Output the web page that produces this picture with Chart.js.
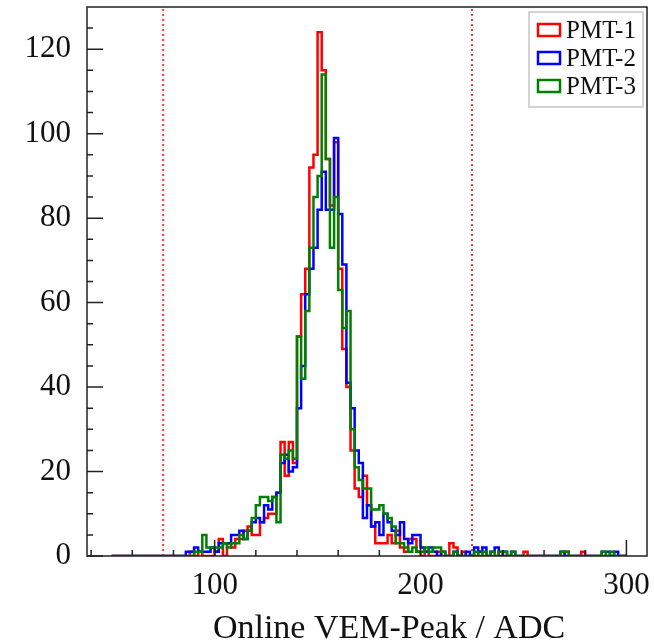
<!DOCTYPE html>
<html>
<head>
<meta charset="utf-8">
<script src="https://cdn.jsdelivr.net/npm/chart.js@4.4.0/dist/chart.umd.min.js"></script>
<style>
  html, body { margin: 0; padding: 0; background: #fff; }
</style>
</head>
<body>
<canvas id="chart" width="654" height="640"></canvas>
<script>
// histogram bins: left edge of first bin and bin width (ADC)
const binStart = 50;
const binWidth = 2;

// counts per bin, 10 bins per row (50-68, 70-88, ...)
const pmt1 = [
  0, 0, 0, 0, 0, 0, 0, 0, 0, 0,
  0, 0, 0, 0, 0, 0, 0, 0, 0, 1,
  0, 1, 0, 0, 0, 1, 4, 0, 3, 2,
  4, 4, 6, 7, 5, 5, 8, 9, 10, 10,
  15, 27, 19, 27, 22, 52, 62, 68, 92, 95,
  124, 115, 94, 83, 98, 68, 49, 40, 25, 16,
  14, 19, 12, 7, 3, 3, 3, 5, 3, 6,
  2, 1, 4, 4, 1, 0, 1, 0, 0, 1,
  0, 0, 3, 2, 0, 1, 0, 0, 0, 1,
  0, 0, 0, 0, 1, 0, 0, 0, 0, 0,
  1, 0, 0, 0, 0, 0, 0, 0, 0, 0,
  1, 0, 0, 0, 1, 0, 0, 0, 0, 0,
  0, 0, 0, 0, 0
];
const pmt2 = [
  0, 0, 0, 0, 0, 0, 0, 0, 0, 0,
  0, 0, 0, 0, 0, 0, 0, 0, 1, 1,
  2, 1, 1, 1, 2, 1, 3, 3, 3, 5,
  5, 6, 4, 6, 8, 9, 8, 12, 11, 14,
  15, 22, 24, 20, 21, 35, 45, 62, 68, 73,
  82, 91, 82, 82, 99, 81, 69, 41, 35, 25,
  22, 9, 12, 7, 8, 5, 10, 8, 6, 5,
  8, 4, 3, 5, 5, 2, 1, 2, 1, 0,
  1, 0, 0, 1, 0, 0, 1, 0, 2, 1,
  2, 0, 1, 2, 0, 1, 0, 1, 0, 0,
  0, 0, 0, 0, 0, 0, 0, 0, 0, 1,
  0, 0, 0, 0, 0, 0, 0, 0, 0, 1,
  1, 0, 1, 0, 0
];
const pmt3 = [
  0, 0, 0, 0, 0, 0, 0, 0, 0, 0,
  0, 0, 0, 0, 0, 0, 0, 0, 0, 0,
  1, 1, 5, 2, 2, 2, 2, 3, 2, 3,
  3, 5, 4, 6, 9, 12, 14, 14, 13, 14,
  8, 24, 23, 25, 23, 52, 42, 58, 73, 85,
  90, 114, 94, 73, 85, 63, 54, 58, 30, 21,
  18, 16, 16, 11, 11, 12, 10, 9, 7, 3,
  3, 2, 1, 2, 1, 1, 2, 1, 2, 2,
  1, 0, 0, 1, 0, 0, 0, 0, 1, 0,
  1, 0, 1, 0, 1, 1, 0, 1, 0, 0,
  0, 0, 0, 0, 0, 0, 0, 0, 0, 1,
  1, 0, 0, 0, 0, 0, 0, 0, 0, 1,
  0, 1, 0, 0, 0
];

const seriesLabels = ['PMT-1', 'PMT-2', 'PMT-3'];
const seriesColors = ['#ff0000', '#0000ff', '#008000'];

const xTicks = [40, 60, 80, 100, 120, 140, 160, 180, 200, 220, 240, 260, 280, 300];
const xLabels = [100, 200, 300];
const yTicks = [0, 5, 10, 15, 20, 25, 30, 35, 40, 45, 50, 55, 60, 65, 70, 75, 80, 85, 90, 95, 100, 105, 110, 115, 120, 125];
const yLabels = [0, 20, 40, 60, 80, 100, 120];
const cutLines = [75, 225];
const xTitle = 'Online VEM-Peak / ADC';

const serif = '"Liberation Serif", "Times New Roman", serif';

// contorno de histograma (cada ponto = borda esquerda do bin)
function toSteps(counts) {
  const pts = counts.map((c, i) => ({ x: binStart + i * binWidth, y: c }));
  pts.push({ x: binStart + counts.length * binWidth, y: 0 });
  return pts;
}

// sem folga extra dos rótulos em volta da área do gráfico
function noPad(s) {
  s.paddingTop = 0;
  s.paddingBottom = 0;
  s.paddingLeft = 0;
  s.paddingRight = 0;
}

// linhas pontilhadas, moldura, ticks internos, legenda e título
const decor = {
  id: 'decor',
  beforeDatasetsDraw(chart) {
    const { ctx, chartArea: a, scales: { x } } = chart;
    ctx.save();
    ctx.strokeStyle = 'rgba(255,30,30,0.9)';
    ctx.lineWidth = 2;
    ctx.setLineDash([2, 3]);
    cutLines.forEach(v => {
      const px = x.getPixelForValue(v);
      ctx.beginPath();
      ctx.moveTo(px, a.bottom);
      ctx.lineTo(px, a.top);
      ctx.stroke();
    });
    ctx.restore();
  },
  afterDatasetsDraw(chart) {
    const { ctx, chartArea: a, scales: { x, y } } = chart;
    ctx.save();
    ctx.strokeStyle = '#222';
    ctx.lineWidth = 1.5;
    ctx.beginPath();
    x.ticks.forEach(t => {
      const px = x.getPixelForValue(t.value);
      const len = xLabels.includes(t.value) ? 16 : 6;
      ctx.moveTo(px, a.bottom);
      ctx.lineTo(px, a.bottom - len);
    });
    y.ticks.forEach(t => {
      const py = y.getPixelForValue(t.value);
      const len = yLabels.includes(t.value) ? 16 : 6;
      ctx.moveTo(a.left, py);
      ctx.lineTo(a.left + len, py);
    });
    ctx.stroke();
    ctx.strokeRect(a.left, a.top, a.right - a.left, a.bottom - a.top);
    ctx.restore();
  },
  afterDraw(chart) {
    const { ctx, chartArea: a } = chart;
    ctx.save();
    // legenda
    const bw = 114, bh = 95;
    const bx = a.right - 4 - bw, by = a.top + 5;
    ctx.fillStyle = '#fff';
    ctx.fillRect(bx, by, bw, bh);
    ctx.strokeStyle = '#d4d4d4';
    ctx.lineWidth = 2;
    ctx.strokeRect(bx, by, bw, bh);
    ctx.font = '25px ' + serif;
    ctx.textBaseline = 'middle';
    ctx.textAlign = 'left';
    chart.data.datasets.forEach((ds, i) => {
      const cy = by + 18 + i * 28;
      ctx.strokeStyle = ds.borderColor;
      ctx.lineWidth = 2.5;
      ctx.strokeRect(bx + 9, cy - 6, 22, 12);
      ctx.fillStyle = '#111';
      ctx.fillText(ds.label, bx + 37, cy + 1);
    });
    // título do eixo x
    ctx.font = '34px ' + serif;
    ctx.textAlign = 'center';
    ctx.textBaseline = 'alphabetic';
    ctx.fillStyle = '#111';
    ctx.fillText(xTitle, (a.left + a.right) / 2 + 22, 638);
    ctx.restore();
  }
};

const allSeries = [pmt1, pmt2, pmt3];

const ctx = document.getElementById('chart').getContext('2d');
const chart = new Chart(ctx, {
  type: 'line',
  data: {
    datasets: allSeries.map((counts, k) => ({
      label: seriesLabels[k],
      data: toSteps(counts),
      borderColor: seriesColors[k],
      backgroundColor: seriesColors[k],
      borderWidth: 2.5,
      stepped: 'before',
      pointRadius: 0,
      fill: false,
      order: 3 - k
    }))
  },
  options: {
    responsive: false,
    animation: false,
    devicePixelRatio: 1,
    layout: { padding: { top: 7, right: 7, left: 0, bottom: 0 } },
    plugins: { legend: { display: false }, tooltip: { enabled: false } },
    scales: {
      x: {
        type: 'linear',
        min: 38,
        max: 310,
        grid: { display: false, drawTicks: false },
        border: { display: false },
        afterBuildTicks: s => { s.ticks = xTicks.map(v => ({ value: v })); },
        afterFit: s => { s.height = 84; noPad(s); },
        ticks: {
          autoSkip: false,
          maxRotation: 0,
          padding: 11,
          color: '#111',
          font: { family: serif, size: 31 },
          callback: v => xLabels.includes(v) ? String(v) : ''
        }
      },
      y: {
        min: 0,
        max: 130,
        grid: { display: false, drawTicks: false },
        border: { display: false },
        afterBuildTicks: s => { s.ticks = yTicks.map(v => ({ value: v })); },
        afterFit: s => { s.width = 87; noPad(s); },
        ticks: {
          autoSkip: false,
          padding: 16,
          color: '#111',
          font: { family: serif, size: 31 },
          callback: v => yLabels.includes(v) ? String(v) : ''
        }
      }
    }
  },
  plugins: [decor]
});
</script>
</body>
</html>
